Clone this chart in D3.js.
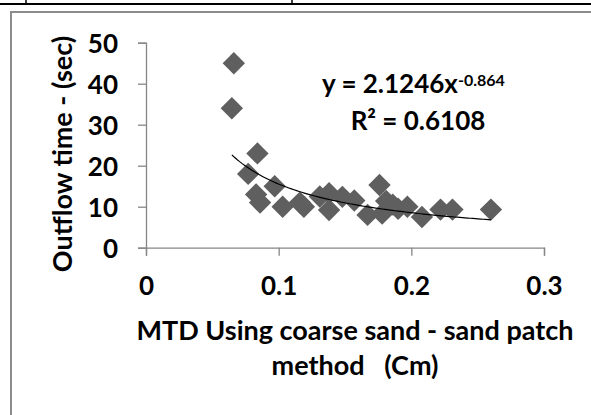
<!DOCTYPE html>
<html><head><meta charset="utf-8">
<script src="https://cdn.jsdelivr.net/npm/d3@7"></script>
<style>body{margin:0;background:#fff}svg{display:block}text{font-family:Lato,"Open Sans",sans-serif;font-weight:bold;fill:#000}</style>
</head><body>
<svg id="c" width="591" height="415"></svg>
<script>
const xValues = [0.0662,0.0647,0.084,0.077,0.083,0.086,0.097,0.103,0.116,0.119,0.131,0.138,0.138,0.148,0.157,0.176,0.167,0.178,0.181,0.186,0.190,0.197,0.208,0.222,0.231,0.260];
const yValues = [45,34,23,18,13,11,15,10,11,10,12.5,13.3,9.2,12.4,11.5,15.3,8,8.3,11.4,10.5,9.5,10,7.5,9.3,9.3,9.3];
const xTicks = [0,0.1,0.2,0.3];
const yTicks = [0,10,20,30,40,50];
const fitA = 2.1246, fitB = -0.864;

const svg = d3.select("#c");
// table fragment at top
svg.append("line").attr("x1",0).attr("x2",591).attr("y1",4).attr("y2",4).attr("stroke","#000").attr("stroke-width",2);
[26,292].forEach(x=>svg.append("line").attr("x1",x).attr("x2",x).attr("y1",0).attr("y2",4).attr("stroke","#000").attr("stroke-width",1.5));
// chart border
svg.append("path").attr("d","M11,415V12H591").attr("fill","none").attr("stroke","#8c8c8c").attr("stroke-width",2);

const x = d3.scaleLinear().domain([0,0.3]).range([146,544]);
const y = d3.scaleLinear().domain([0,50]).range([247.7,42.7]);
const axisColor = "#868686";

const gx = svg.append("g").attr("transform",`translate(0,${y(0)})`)
  .call(d3.axisBottom(x).tickValues(xTicks).tickSize(8).tickFormat(d=>d===0?"0":d3.format(".1f")(d)));
const gy = svg.append("g").attr("transform",`translate(${x(0)},0)`)
  .call(d3.axisLeft(y).tickValues(yTicks).tickSize(8).tickFormat(d3.format("d")));
[gx,gy].forEach(g=>{
  g.select(".domain").attr("stroke",axisColor).attr("stroke-width",1.3);
  g.selectAll(".tick line").attr("stroke",axisColor).attr("stroke-width",1.3);
  g.selectAll("text").attr("font-family","Lato,sans-serif").attr("font-weight","bold").attr("font-size",26).attr("fill","#000");
});
gx.selectAll(".tick text").attr("y",47).attr("dy",0);
gy.selectAll(".tick text").attr("x",-28).attr("dy","0.36em");

// markers
const sym = d3.symbol(d3.symbolSquare, 250);
svg.append("g").selectAll("path").data(xValues.map((v,i)=>[v,yValues[i]])).join("path")
  .attr("d",sym).attr("fill","#5f5f5f")
  .attr("transform",d=>`translate(${x(d[0])},${y(d[1])}) rotate(45)`);

// trendline
const xmin = d3.min(xValues), xmax = d3.max(xValues);
const fit = d3.range(0,101).map(i=>{const xv = xmin+(xmax-xmin)*i/100; return [xv, fitA*Math.pow(xv,fitB)];});
svg.append("path").datum(fit).attr("fill","none").attr("stroke","#000").attr("stroke-width",1.2)
  .attr("d",d3.line().x(d=>x(d[0])).y(d=>y(d[1])));

// equation
const eq = svg.append("text").attr("x",322).attr("y",93).attr("font-size",26);
eq.append("tspan").text("y = 2.1246x");
eq.append("tspan").attr("font-size",16).attr("dy",-7).text("-0.864");
svg.append("text").attr("x",418).attr("y",130).attr("text-anchor","middle").attr("font-size",26).text("R² = 0.6108");

// axis titles
svg.append("text").attr("transform","translate(72,154) rotate(-90)").attr("text-anchor","middle").attr("font-size",27).text("Outflow time - (sec)");
svg.append("text").attr("x",355).attr("y",340).attr("text-anchor","middle").attr("font-size",27).text("MTD Using coarse sand - sand patch");
svg.append("text").attr("x",355).attr("y",375).attr("text-anchor","middle").attr("font-size",27).style("white-space","pre").text("method   (Cm)");
</script>
</body></html>
